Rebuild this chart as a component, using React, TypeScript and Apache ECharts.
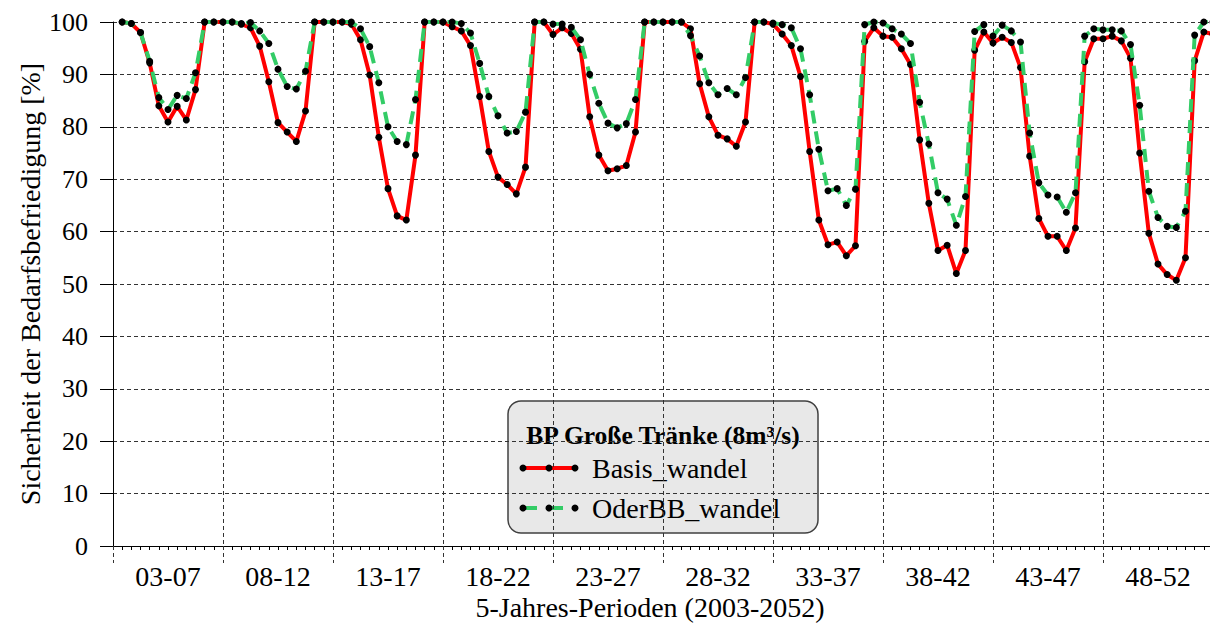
import React, { useEffect, useRef } from "react";
import * as echarts from "echarts";

const periodLabels = ["03-07", "08-12", "13-17", "18-22", "23-27", "28-32", "33-37", "38-42", "43-47", "48-52"];

const basisWandel = [
  100, 99.7, 98, 92.2, 84, 80.9, 83.9, 81.3, 87.1, 100, 100, 100,
  100, 99.6, 98.9, 95.4, 88.6, 80.8, 79, 77.2, 83, 100, 100, 100,
  100, 99.6, 96.6, 89.9, 78, 68.2, 63, 62.2, 74.6, 100, 100, 100,
  99.1, 98.3, 95.5, 85.8, 75.3, 70.4, 69, 67.2, 72.3, 100, 100, 97.6,
  98.9, 97.8, 94.8, 81.9, 74.6, 71.6, 72, 72.6, 79, 100, 100, 100,
  100, 100, 98.7, 88.2, 81.9, 78.4, 77.7, 76.3, 80.9, 100, 100, 99.6,
  97.7, 95.5, 89.6, 75.3, 62.2, 57.5, 58, 55.4, 57.3, 96.3, 98.9, 97.3,
  97.1, 94.9, 91.9, 77.5, 65.4, 56.4, 57.4, 52, 56.4, 94.6, 98.1, 96,
  97.1, 96.1, 91.3, 74.4, 62.5, 59.1, 59.1, 56.4, 60.7, 92.4, 96.8, 96.8,
  97.3, 96.4, 93.1, 75, 59.7, 53.8, 51.8, 50.7, 55, 92.6, 98.1, 97.7,
];

const oderBBWandel = [
  100, 99.7, 98, 92.5, 85.6, 83.3, 86, 85.4, 90.3, 100, 100, 100,
  100, 99.7, 99.9, 98.3, 95.9, 91, 87.7, 87.2, 90.6, 100, 100, 100,
  100, 100, 98.7, 95.3, 88.4, 80, 77.2, 76.6, 85.2, 100, 100, 100,
  100, 99.7, 97.9, 92.1, 85.8, 82.1, 78.8, 79.1, 82.8, 100, 100, 99.6,
  99.6, 99, 96.6, 90, 84.5, 80.7, 79.8, 80.6, 85.2, 100, 100, 100,
  100, 100, 97.4, 93.5, 88.4, 86.1, 87.3, 86.1, 89.4, 100, 100, 99.8,
  99.5, 98.9, 94.9, 86.1, 75.7, 67.8, 68.2, 65, 68.1, 99.5, 100, 99.8,
  98.7, 97.7, 95.9, 84.7, 76.7, 67.4, 66.2, 61.2, 66.7, 98.2, 99.5, 97.3,
  99.4, 98.3, 96.2, 78.8, 69.3, 67, 66.6, 63.7, 67.4, 97.3, 98.7, 98.5,
  98.5, 98.3, 95.7, 84.1, 67.7, 62.7, 61, 60.8, 63.9, 97.5, 100, 100,
];

const seriesNames = ["Basis_wandel", "OderBB_wandel"];
const legendTitle = "BP Große Tränke (8m³/s)";
const xTitle = "5-Jahres-Perioden (2003-2052)";
const yTitle = "Sicherheit der Bedarfsbefriedigung [%]";

const FONT = "Liberation Serif";
const RED = "#ff0000";
const GREEN = "#33cc66";

const txt = (text: string, size: number, align: string, weight = "normal") => ({
  text,
  fontSize: size,
  fontFamily: FONT,
  fontWeight: weight,
  fill: "#000",
  align,
  verticalAlign: "middle",
  textAlign: align,
  textVerticalAlign: "middle",
});

export default function App() {
  const ref = useRef<HTMLDivElement>(null);
  useEffect(() => {
    if (!ref.current) return;
    const chart = echarts.init(ref.current, null, { renderer: "svg" });
    const toPairs = (arr: number[]) => arr.map((v, i) => [i + 1, v]);
    const lx = 508, ly = 401;
    chart.setOption({
      animation: false,
      backgroundColor: "#ffffff",
      textStyle: { fontFamily: FONT },
      grid: { left: 113, right: -3, top: 22, bottom: 80, containLabel: false, outerBoundsMode: "none" },
      xAxis: [
        {
          type: "value",
          min: 0,
          max: 120,
          interval: 12,
          axisLine: { show: true, onZero: false, lineStyle: { color: "#000", width: 1 } },
          axisTick: { show: true, length: 17, lineStyle: { color: "#333", type: [4, 3], width: 1 } },
          minorTick: { show: true, splitNumber: 12, length: 4, lineStyle: { color: "#000", width: 1 } },
          axisLabel: { show: false },
          splitLine: { show: true, lineStyle: { color: "#333", type: [4, 3], width: 1 } },
        },
        {
          type: "category",
          position: "bottom",
          data: periodLabels,
          boundaryGap: true,
          axisLine: { show: false },
          axisTick: { show: false },
          splitLine: { show: false },
          axisLabel: { show: true, margin: 16, fontSize: 28, fontFamily: FONT, color: "#000" },
        },
      ],
      yAxis: {
        type: "value",
        min: 0,
        max: 100,
        interval: 10,
        axisLine: { show: true, lineStyle: { color: "#000", width: 1 } },
        axisTick: { show: true, length: 13, lineStyle: { color: "#000", width: 1 } },
        axisLabel: { margin: 25, fontSize: 26, fontFamily: FONT, color: "#000" },
        splitLine: { show: true, lineStyle: { color: "#333", type: [4, 3], width: 1 } },
      },
      series: [
        {
          name: seriesNames[0],
          type: "line",
          xAxisIndex: 0,
          data: toPairs(basisWandel),
          symbol: "circle",
          symbolSize: 7,
          itemStyle: { color: "#000" },
          lineStyle: { color: RED, width: 4 },
          z: 2,
        },
        {
          name: seriesNames[1],
          type: "line",
          xAxisIndex: 0,
          data: toPairs(oderBBWandel),
          symbol: "circle",
          symbolSize: 7,
          itemStyle: { color: "#000" },
          lineStyle: { color: GREEN, width: 4, type: [13, 8] },
          z: 3,
        },
      ],
      graphic: [
        { type: "text", x: 30, y: 284, rotation: Math.PI / 2, style: txt(yTitle, 28, "center") },
        { type: "text", x: 650, y: 607, style: txt(xTitle, 28, "center") },
        {
          type: "group",
          z: 100,
          children: [
            {
              type: "rect",
              shape: { x: lx, y: ly, width: 310, height: 132, r: 13 },
              style: { fill: "#e8e8e8", stroke: "#404040", lineWidth: 1.5 },
            },
            { type: "text", x: 663, y: 435, style: txt(legendTitle, 25.5, "center", "bold") },
            { type: "line", shape: { x1: 523, y1: 468, x2: 575, y2: 468 }, style: { stroke: RED, lineWidth: 4 } },
            { type: "circle", shape: { cx: 523, cy: 468, r: 3.5 }, style: { fill: "#000" } },
            { type: "circle", shape: { cx: 549, cy: 468, r: 3.5 }, style: { fill: "#000" } },
            { type: "circle", shape: { cx: 575, cy: 468, r: 3.5 }, style: { fill: "#000" } },
            { type: "text", x: 592, y: 468, style: txt(seriesNames[0], 28, "left") },
            { type: "line", shape: { x1: 523, y1: 508, x2: 575, y2: 508 }, style: { stroke: GREEN, lineWidth: 4, lineDash: [14, 12] } },
            { type: "circle", shape: { cx: 523, cy: 508, r: 3.5 }, style: { fill: "#000" } },
            { type: "circle", shape: { cx: 549, cy: 508, r: 3.5 }, style: { fill: "#000" } },
            { type: "circle", shape: { cx: 575, cy: 508, r: 3.5 }, style: { fill: "#000" } },
            { type: "text", x: 592, y: 508, style: txt(seriesNames[1], 28, "left") },
          ],
        },
      ],
    });
    return () => chart.dispose();
  }, []);
  return (
    <div
      ref={ref}
      style={{ position: "absolute", left: 0, top: 0, width: 1210, height: 626, background: "#fff" }}
    />
  );
}
